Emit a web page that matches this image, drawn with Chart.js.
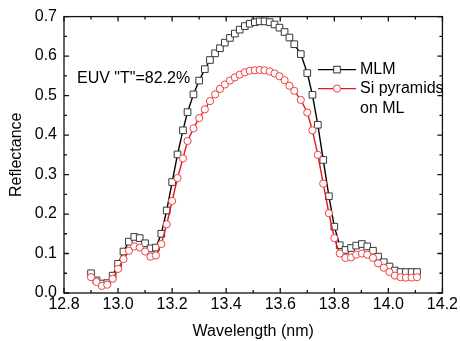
<!DOCTYPE html>
<html>
<head>
<meta charset="utf-8">
<script src="https://cdn.jsdelivr.net/npm/chart.js@4/dist/chart.umd.min.js"></script>
<style>
  html, body { margin: 0; padding: 0; background: #fff; }
  canvas { display: block; }
</style>
</head>
<body>
<canvas id="chart" width="460" height="341"></canvas>
<script>
// values
const wavelength = [12.90, 12.92, 12.94, 12.96, 12.98, 13.00, 13.02, 13.04, 13.06, 13.08,
  13.10, 13.12, 13.14, 13.16, 13.18, 13.20, 13.22, 13.24, 13.257, 13.279,
  13.30, 13.321, 13.34, 13.359, 13.377, 13.395, 13.414, 13.432, 13.45, 13.469,
  13.487, 13.506, 13.524, 13.542, 13.561, 13.579, 13.597, 13.616, 13.634, 13.652,
  13.676, 13.70, 13.719, 13.739, 13.759, 13.78, 13.80, 13.82, 13.841, 13.862,
  13.881, 13.902, 13.922, 13.943, 13.962, 13.983, 14.004, 14.024, 14.045, 14.065,
  14.086, 14.106];

const mlm = [0.050, 0.032, 0.024, 0.025, 0.044, 0.074, 0.105, 0.130, 0.142, 0.139,
  0.126, 0.113, 0.115, 0.150, 0.209, 0.281, 0.351, 0.412, 0.458, 0.503,
  0.538, 0.567, 0.590, 0.607, 0.620, 0.634, 0.646, 0.657, 0.667, 0.676,
  0.682, 0.686, 0.688, 0.688, 0.686, 0.680, 0.672, 0.661, 0.647, 0.630,
  0.605, 0.557, 0.502, 0.426, 0.337, 0.245, 0.168, 0.121, 0.109, 0.114,
  0.120, 0.124, 0.118, 0.107, 0.092, 0.078, 0.067, 0.057, 0.053, 0.053,
  0.053, 0.053];

const siPyramids = [0.040, 0.028, 0.018, 0.021, 0.036, 0.061, 0.086, 0.107, 0.118, 0.115,
  0.105, 0.092, 0.095, 0.124, 0.174, 0.233, 0.291, 0.341, 0.385, 0.417,
  0.443, 0.465, 0.486, 0.503, 0.517, 0.528, 0.538, 0.546, 0.553, 0.559,
  0.563, 0.564, 0.565, 0.564, 0.561, 0.556, 0.549, 0.539, 0.525, 0.512,
  0.489, 0.457, 0.412, 0.350, 0.277, 0.202, 0.139, 0.100, 0.089, 0.090,
  0.097, 0.100, 0.097, 0.089, 0.075, 0.064, 0.053, 0.044, 0.040, 0.039,
  0.039, 0.040];

const seriesNames = ["MLM", ["Si pyramids", "on ML"]];
const note = 'EUV "T"=82.2%';

const FONT = "'Liberation Sans', Arial, Helvetica, sans-serif";
const BLACK = "#000";
const RED = "#e3191b";

function points(ys) {
  return wavelength.map((x, i) => ({ x: x, y: ys[i] }));
}

// frame with inward ticks on all four sides, note and legend
const framePlugin = {
  id: "frame",
  afterDraw(chart) {
    const ctx = chart.ctx;
    const a = chart.chartArea;
    const xs = chart.scales.x, ys = chart.scales.y;
    ctx.save();
    ctx.strokeStyle = "#111";
    ctx.lineWidth = 1.3;
    ctx.strokeRect(a.left, a.top, a.right - a.left, a.bottom - a.top);

    const majorLen = 5, minorLen = 3;
    ctx.beginPath();
    const xt = xs.ticks.map(t => t.value);
    xt.forEach((v, i) => {
      const px = xs.getPixelForValue(v);
      ctx.moveTo(px, a.bottom); ctx.lineTo(px, a.bottom - majorLen);
      ctx.moveTo(px, a.top); ctx.lineTo(px, a.top + majorLen);
      if (i < xt.length - 1) {
        const mx = xs.getPixelForValue((v + xt[i + 1]) / 2);
        ctx.moveTo(mx, a.bottom); ctx.lineTo(mx, a.bottom - minorLen);
        ctx.moveTo(mx, a.top); ctx.lineTo(mx, a.top + minorLen);
      }
    });
    const yt = ys.ticks.map(t => t.value);
    yt.forEach((v, i) => {
      const py = ys.getPixelForValue(v);
      ctx.moveTo(a.left, py); ctx.lineTo(a.left + majorLen, py);
      ctx.moveTo(a.right, py); ctx.lineTo(a.right - majorLen, py);
      if (i < yt.length - 1) {
        const my = ys.getPixelForValue((v + yt[i + 1]) / 2);
        ctx.moveTo(a.left, my); ctx.lineTo(a.left + minorLen, my);
        ctx.moveTo(a.right, my); ctx.lineTo(a.right - minorLen, my);
      }
    });
    ctx.stroke();

    ctx.fillStyle = "#000";
    ctx.font = "16px " + FONT;
    ctx.textBaseline = "middle";
    ctx.textAlign = "left";
    ctx.fillText(note, a.left + 13, a.top + 62);

    // legend
    const lx0 = a.left + 254, lx1 = a.left + 292, mx = a.left + 273;
    const rows = [a.top + 53, a.top + 72];
    ctx.lineWidth = 1.4;
    ctx.strokeStyle = BLACK;
    ctx.beginPath(); ctx.moveTo(lx0, rows[0]); ctx.lineTo(lx1, rows[0]); ctx.stroke();
    ctx.fillStyle = "#fff";
    ctx.strokeStyle = "#333";
    ctx.lineWidth = 1;
    ctx.fillRect(mx - 3.3, rows[0] - 3.3, 6.6, 6.6);
    ctx.strokeRect(mx - 3.3, rows[0] - 3.3, 6.6, 6.6);
    ctx.strokeStyle = RED;
    ctx.lineWidth = 1.4;
    ctx.beginPath(); ctx.moveTo(lx0, rows[1]); ctx.lineTo(lx1, rows[1]); ctx.stroke();
    ctx.lineWidth = 1;
    ctx.strokeStyle = "#f04040";
    ctx.beginPath(); ctx.arc(mx, rows[1], 3.6, 0, Math.PI * 2); ctx.fill(); ctx.stroke();

    ctx.fillStyle = "#000";
    ctx.fillText(seriesNames[0], lx1 + 4, rows[0]);
    ctx.fillText(seriesNames[1][0], lx1 + 4, rows[1]);
    ctx.fillText(seriesNames[1][1], lx1 + 4, rows[1] + 20);
    ctx.restore();
  }
};

new Chart(document.getElementById("chart"), {
  type: "line",
  data: {
    datasets: [
      {
        label: seriesNames[0],
        data: points(mlm),
        borderColor: BLACK,
        borderWidth: 1.4,
        pointStyle: "rect",
        pointRadius: 4.7,
        pointBorderWidth: 1,
        pointBorderColor: "#383838",
        pointBackgroundColor: "#fff",
        tension: 0,
        order: 1
      },
      {
        label: seriesNames[1].join(" "),
        data: points(siPyramids),
        borderColor: RED,
        borderWidth: 1.4,
        pointStyle: "circle",
        pointRadius: 3.6,
        pointBorderWidth: 1,
        pointBorderColor: "#f04040",
        pointBackgroundColor: "#fff",
        tension: 0,
        order: 0
      }
    ]
  },
  options: {
    responsive: false,
    animation: false,
    events: [],
    layout: { padding: { top: 13, right: 15, left: 0, bottom: 0 } },
    plugins: { legend: { display: false }, tooltip: { enabled: false } },
    scales: {
      x: {
        type: "linear",
        min: 12.8,
        max: 14.2,
        ticks: {
          stepSize: 0.2,
          autoSkip: false,
          maxRotation: 0,
          padding: 2,
          color: "#000",
          font: { family: FONT, size: 16 },
          callback: v => v.toFixed(1)
        },
        grid: { display: false, drawTicks: false },
        border: { display: false },
        title: {
          display: true,
          text: "Wavelength (nm)",
          color: "#000",
          font: { family: FONT, size: 16 },
          padding: { top: 0, bottom: 0 }
        },
        afterFit: s => { s.height = 48; }
      },
      y: {
        min: 0,
        max: 0.7,
        ticks: {
          stepSize: 0.1,
          padding: 7,
          color: "#000",
          font: { family: FONT, size: 16 },
          callback: v => v.toFixed(1)
        },
        grid: { display: false, drawTicks: false },
        border: { display: false },
        title: {
          display: true,
          text: "Reflectance",
          color: "#000",
          font: { family: FONT, size: 16 },
          padding: { top: 7, bottom: 0 }
        },
        afterFit: s => { s.width = 64; }
      }
    }
  },
  plugins: [framePlugin]
});
</script>
</body>
</html>
